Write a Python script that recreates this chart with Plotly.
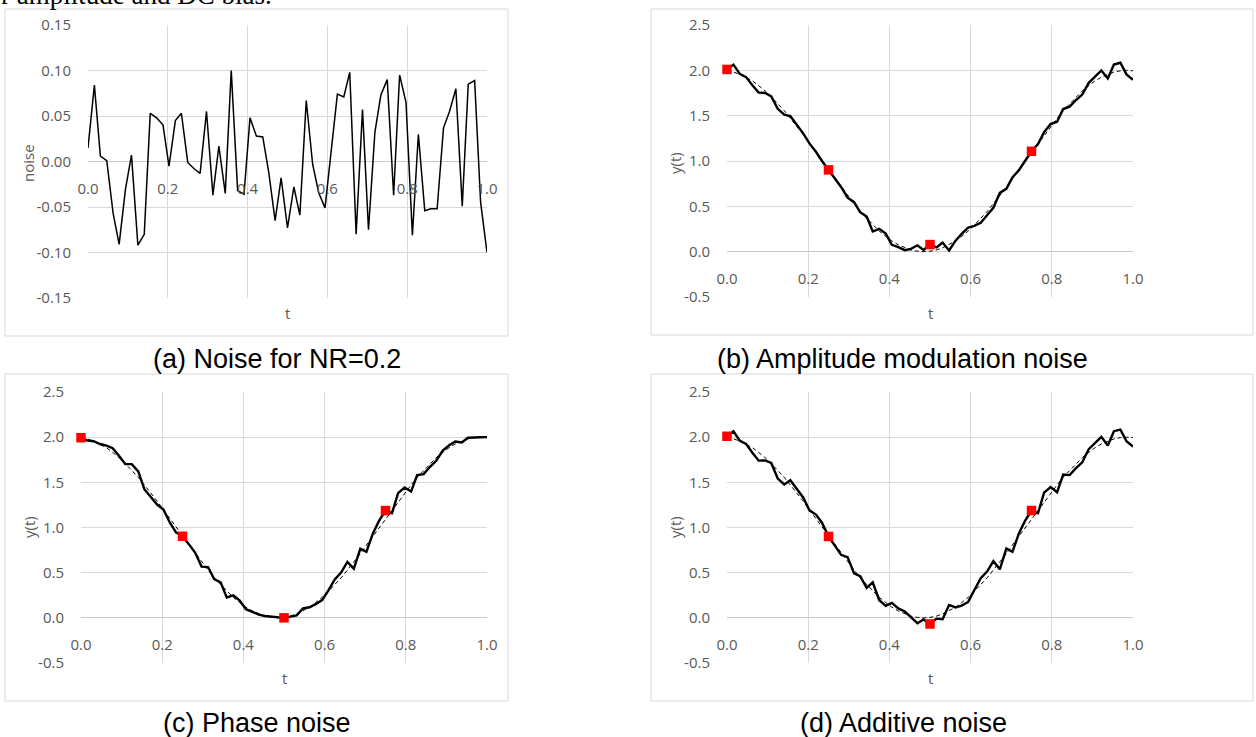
import plotly.graph_objects as go

W, H = 1256, 737

# ---------------- data ----------------
t = [0.000, 0.016, 0.031, 0.047, 0.063, 0.078, 0.094, 0.109, 0.125, 0.141,
     0.156, 0.172, 0.188, 0.203, 0.219, 0.234, 0.250, 0.266, 0.281, 0.297,
     0.313, 0.328, 0.344, 0.359, 0.375, 0.391, 0.406, 0.422, 0.438, 0.453,
     0.469, 0.484, 0.500, 0.516, 0.531, 0.547, 0.563, 0.578, 0.594, 0.609,
     0.625, 0.641, 0.656, 0.672, 0.688, 0.703, 0.719, 0.734, 0.750, 0.766,
     0.781, 0.797, 0.813, 0.828, 0.844, 0.859, 0.875, 0.891, 0.906, 0.922,
     0.938, 0.953, 0.969, 0.984, 1.000]

noise = [0.015, 0.084, 0.006, 0.001, -0.057, -0.091, -0.030, 0.007, -0.092, -0.080,
         0.053, 0.048, 0.040, -0.005, 0.045, 0.053, -0.001, -0.008, -0.013, 0.055,
         -0.037, 0.017, -0.035, 0.100, -0.032, -0.036, 0.048, 0.028, 0.027, -0.012,
         -0.065, -0.018, -0.073, -0.028, -0.059, 0.067, -0.003, -0.034, -0.051, 0.012,
         0.074, 0.071, 0.098, -0.080, 0.057, -0.075, 0.032, 0.073, 0.090, -0.037,
         0.095, 0.065, -0.081, 0.030, -0.054, -0.052, -0.052, 0.037, 0.055, 0.080,
         -0.049, 0.085, 0.089, -0.045, -0.100]

clean = [1.995, 1.981, 1.957, 1.924, 1.882, 1.831, 1.773, 1.707, 1.634, 1.556,
         1.471, 1.383, 1.290, 1.195, 1.098, 1.000, 0.902, 0.805, 0.710, 0.617,
         0.529, 0.444, 0.366, 0.293, 0.227, 0.169, 0.118, 0.076, 0.043, 0.019,
         0.005, 0.000, 0.005, 0.019, 0.043, 0.076, 0.118, 0.169, 0.227, 0.293,
         0.366, 0.444, 0.529, 0.617, 0.710, 0.805, 0.902, 1.000, 1.098, 1.195,
         1.290, 1.383, 1.471, 1.556, 1.634, 1.707, 1.773, 1.831, 1.882, 1.924,
         1.957, 1.981, 1.995, 2.000, 1.995]

amp_noisy = [2.010, 2.063, 1.963, 1.925, 1.832, 1.755, 1.750, 1.712, 1.576, 1.511,
             1.496, 1.401, 1.302, 1.194, 1.102, 1.000, 0.902, 0.807, 0.714, 0.596,
             0.546, 0.435, 0.388, 0.222, 0.252, 0.199, 0.076, 0.050, 0.017, 0.031,
             0.070, 0.018, 0.078, 0.047, 0.100, 0.014, 0.121, 0.197, 0.266, 0.285,
             0.319, 0.405, 0.483, 0.648, 0.693, 0.820, 0.899, 1.000, 1.107, 1.188,
             1.318, 1.408, 1.433, 1.573, 1.600, 1.670, 1.733, 1.862, 1.931, 1.998,
             1.910, 2.064, 2.084, 1.955, 1.896]

phase_noisy = [1.994, 1.961, 1.955, 1.924, 1.907, 1.878, 1.792, 1.702, 1.702, 1.621,
               1.424, 1.338, 1.251, 1.200, 1.053, 0.947, 0.903, 0.813, 0.722, 0.567,
               0.562, 0.430, 0.393, 0.226, 0.248, 0.190, 0.096, 0.066, 0.036, 0.021,
               0.013, 0.000, 0.000, 0.014, 0.028, 0.104, 0.117, 0.151, 0.196, 0.302,
               0.425, 0.504, 0.618, 0.544, 0.765, 0.732, 0.934, 1.073, 1.187, 1.159,
               1.380, 1.442, 1.398, 1.581, 1.591, 1.669, 1.739, 1.851, 1.907, 1.952,
               1.942, 1.994, 2.000, 1.999, 2.000]

add_noisy = [2.010, 2.065, 1.963, 1.925, 1.825, 1.740, 1.743, 1.714, 1.542, 1.476,
             1.524, 1.431, 1.330, 1.190, 1.143, 1.053, 0.901, 0.797, 0.697, 0.672,
             0.492, 0.461, 0.331, 0.393, 0.195, 0.133, 0.166, 0.104, 0.070, 0.007,
             -0.060, -0.018, -0.068, -0.009, -0.016, 0.143, 0.115, 0.135, 0.176, 0.305,
             0.440, 0.515, 0.627, 0.537, 0.767, 0.730, 0.934, 1.073, 1.188, 1.158,
             1.385, 1.448, 1.390, 1.586, 1.580, 1.655, 1.721, 1.868, 1.937, 2.004,
             1.908, 2.066, 2.084, 1.955, 1.895]

marker_t = [0.0, 0.25, 0.5, 0.75]
amp_markers = [2.010, 0.902, 0.078, 1.107]
phase_markers = [1.994, 0.903, 0.000, 1.187]
add_markers = [2.010, 0.901, -0.068, 1.188]

# tick labels
x_tickvals = [0.0, 0.2, 0.4, 0.6, 0.8, 1.0]
x_ticktext = ["0.0", "0.2", "0.4", "0.6", "0.8", "1.0"]
noise_tickvals = [-0.15, -0.10, -0.05, 0.0, 0.05, 0.10, 0.15]
noise_ticktext = ["-0.15", "-0.10", "-0.05", "0.00", "0.05", "0.10", "0.15"]
y_tickvals = [-0.5, 0.0, 0.5, 1.0, 1.5, 2.0, 2.5]
y_ticktext = ["-0.5", "0.0", "0.5", "1.0", "1.5", "2.0", "2.5"]

captions = ["(a) Noise for NR=0.2", "(b) Amplitude modulation noise",
            "(c) Phase noise", "(d) Additive noise"]

# ---------------- layout helpers (pixel geometry) ----------------
def px_x(x):
    return x / W

def px_y(y):
    return 1 - y / H

GRID = "#d9d9d9"
TXT = "#595959"
TICKFONT = dict(family="Open Sans", size=15, color=TXT)

# plot areas in pixels: (left, right, top, bottom)
areas = {
    1: (88, 487, 25, 298),
    2: (727, 1133, 25, 297),
    3: (81, 487, 392, 663),
    4: (727, 1133, 392, 663),
}
yranges = {1: [-0.15, 0.15], 2: [-0.5, 2.5], 3: [-0.5, 2.5], 4: [-0.5, 2.5]}
yticks = {1: (noise_tickvals, noise_ticktext), 2: (y_tickvals, y_ticktext),
          3: (y_tickvals, y_ticktext), 4: (y_tickvals, y_ticktext)}

fig = go.Figure()

# panel (a)
fig.add_trace(go.Scatter(x=t, y=noise, mode="lines",
                         line=dict(color="black", width=1.5),
                         xaxis="x", yaxis="y", showlegend=False))

series = [(2, amp_noisy, amp_markers), (3, phase_noisy, phase_markers),
          (4, add_noisy, add_markers)]
for k, noisy, marks in series:
    fig.add_trace(go.Scatter(x=t, y=clean, mode="lines",
                             line=dict(color="black", width=1, dash="4px,3px"),
                             xaxis=f"x{k}", yaxis=f"y{k}", showlegend=False))
    fig.add_trace(go.Scatter(x=t, y=noisy, mode="lines",
                             line=dict(color="black", width=2.4),
                             xaxis=f"x{k}", yaxis=f"y{k}", showlegend=False))
    fig.add_trace(go.Scatter(x=marker_t, y=marks, mode="markers",
                             marker=dict(color="#ff0000", size=9.5, symbol="square",
                                         line=dict(width=0)),
                             cliponaxis=False,
                             xaxis=f"x{k}", yaxis=f"y{k}", showlegend=False))

layout = dict(width=W, height=H,
              margin=dict(l=0, r=0, t=0, b=0, autoexpand=False),
              paper_bgcolor="white", plot_bgcolor="white", showlegend=False)

for k, (l, r, tp, bt) in areas.items():
    sfx = "" if k == 1 else str(k)
    ydom = [px_y(bt), px_y(tp)]
    r0, r1 = yranges[k]
    zero_pos = ydom[0] + (0 - r0) / (r1 - r0) * (ydom[1] - ydom[0])
    tv, tt = yticks[k]
    layout[f"xaxis{sfx}"] = dict(
        domain=[px_x(l), px_x(r)], range=[0, 1],
        tickmode="array", tickvals=x_tickvals, ticktext=x_ticktext,
        showgrid=True, gridcolor=GRID, gridwidth=1,
        zeroline=False, showline=False, ticks="", tickfont=TICKFONT,
        anchor="free", position=zero_pos, ticklabelstandoff=16,
        automargin=False, fixedrange=True)
    layout[f"yaxis{sfx}"] = dict(
        domain=ydom, range=yranges[k],
        tickmode="array", tickvals=tv, ticktext=tt,
        showgrid=True, gridcolor=GRID, gridwidth=1,
        zeroline=True, zerolinecolor="#c8c8c8", zerolinewidth=1,
        showline=False, ticks="", tickfont=TICKFONT,
        anchor=f"x{sfx}", ticklabelstandoff=16, automargin=False,
        fixedrange=True)

fig.update_layout(**layout)

# chart area borders
boxes = [(5, 508, 9, 336), (651, 1253, 9, 335), (5, 508, 374, 701), (651, 1253, 374, 701)]
for (l, r, tp, bt) in boxes:
    fig.add_shape(type="rect", xref="paper", yref="paper",
                  x0=px_x(l), x1=px_x(r), y0=px_y(bt), y1=px_y(tp),
                  line=dict(color=GRID, width=1), fillcolor="rgba(0,0,0,0)",
                  layer="below")

# axis titles
ytitles = [("noise", 28, 163), ("y(t)", 675, 163), ("y(t)", 29, 527), ("y(t)", 675, 527)]
for txt, x, y in ytitles:
    fig.add_annotation(text=txt, x=px_x(x), y=px_y(y), xref="paper", yref="paper",
                       showarrow=False, textangle=-90,
                       xanchor="center", yanchor="middle",
                       font=dict(family="Open Sans", size=15, color=TXT))
xtitles = [(287, 313), (930, 313), (284, 678), (930, 678)]
for x, y in xtitles:
    fig.add_annotation(text="t", x=px_x(x), y=px_y(y), xref="paper", yref="paper",
                       showarrow=False, xanchor="center", yanchor="middle",
                       font=dict(family="Open Sans", size=15, color=TXT))

# captions
cap_pos = [(277, 359), (902, 359), (257, 723), (903, 723)]
for txt, (x, y) in zip(captions, cap_pos):
    fig.add_annotation(text=txt, x=px_x(x), y=px_y(y), xref="paper", yref="paper",
                       showarrow=False, xanchor="center", yanchor="middle",
                       font=dict(family="Liberation Sans", size=27, color="black"))

# running text of the page, cut by the top edge as in the original
fig.add_annotation(text="r amplitude and DC bias.", x=px_x(-1), y=px_y(-5),
                   xref="paper", yref="paper", showarrow=False,
                   xanchor="left", yanchor="middle",
                   font=dict(family="Liberation Serif", size=27, color="black"))

# remove the browser's default page margin so the figure sits at (0, 0)
fig.write_html("out.html",
               config={"displayModeBar": False},
               post_script="document.body.style.margin='0';"
                           "document.body.style.padding='0';")
